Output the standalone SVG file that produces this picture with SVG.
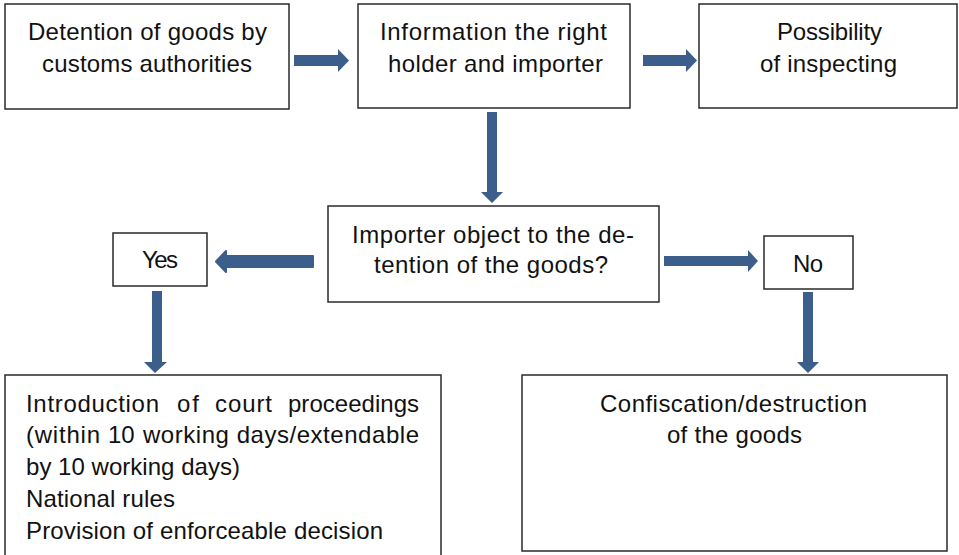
<svg xmlns="http://www.w3.org/2000/svg" width="959" height="555" viewBox="0 0 959 555">
<style>
.box{fill:#fff;stroke:#2a2a2a;stroke-width:1.5}
.t{font-family:"Liberation Sans",Arial,sans-serif;font-size:24px;fill:#111}
.arr{fill:#3b5e8a}
</style>
<rect width="959" height="555" fill="#fff"/>
<g id="n1"><rect class="box" x="5" y="4" width="284" height="105"/>
<text class="t" x="28" y="40" textLength="239">Detention of goods by</text>
<text class="t" x="42" y="72" textLength="210">customs authorities</text></g>
<g id="n2"><rect class="box" x="358" y="4" width="272" height="104"/>
<text class="t" x="380" y="40" textLength="227">Information the right</text>
<text class="t" x="388" y="72" textLength="215">holder and importer</text></g>
<g id="n3"><rect class="box" x="699" y="4" width="258" height="104"/>
<text class="t" x="777" y="40" textLength="105">Possibility</text>
<text class="t" x="760" y="72" textLength="137">of inspecting</text></g>
<g id="n4"><rect class="box" x="328" y="206" width="331" height="96"/>
<text class="t" x="352" y="243" textLength="282">Importer object to the de-</text>
<text class="t" x="374" y="273" textLength="234">tention of the goods?</text></g>
<g id="n5"><rect class="box" x="113" y="233" width="94" height="53"/>
<text class="t" x="142" y="268" textLength="36">Yes</text></g>
<g id="n6"><rect class="box" x="764" y="236" width="89" height="53"/>
<text class="t" x="793" y="272" textLength="30">No</text></g>
<g id="n7"><rect class="box" x="5" y="375" width="436" height="190"/>
<text class="t" y="412"><tspan x="26" textLength="133">Introduction</tspan><tspan x="177" textLength="22">of</tspan><tspan x="215" textLength="57">court</tspan><tspan x="288" textLength="131">proceedings</tspan></text>
<text class="t" y="443"><tspan x="26" textLength="74">(within</tspan><tspan x="108">10</tspan><tspan x="143" textLength="276">working days/extendable</tspan></text>
<text class="t" x="26" y="475" textLength="214">by 10 working days)</text>
<text class="t" x="26" y="507" textLength="149">National rules</text>
<text class="t" x="26" y="539" textLength="357">Provision of enforceable decision</text></g>
<g id="n8"><rect class="box" x="522" y="375" width="425" height="176"/>
<text class="t" x="600" y="412" textLength="267">Confiscation/destruction</text>
<text class="t" x="667" y="443" textLength="135">of the goods</text></g>
<g id="connectors">
<polygon class="arr" points="294,55 338,55 338,49 349,60.5 338,72 338,66 294,66"/>
<polygon class="arr" points="643,55 686,55 686,49 697,60.5 686,72 686,66 643,66"/>
<polygon class="arr" points="487,112 497,112 497,192 503,192 492,203 481,192 487,192"/>
<path class="arr" d="M313,256 L226,256 L226,251 L216,261.5 L226,272 L226,267 L313,267 Z" stroke="#3b5e8a" stroke-width="2" stroke-linejoin="round"/>
<polygon class="arr" points="664,256 748,256 748,250 758,261 748,272 748,266 664,266"/>
<polygon class="arr" points="152,291 162,291 162,362 167,362 155,373 144,362 152,362"/>
<polygon class="arr" points="803,292 813,292 813,362 819,362 808,373 797,362 803,362"/>
</g>
</svg>
